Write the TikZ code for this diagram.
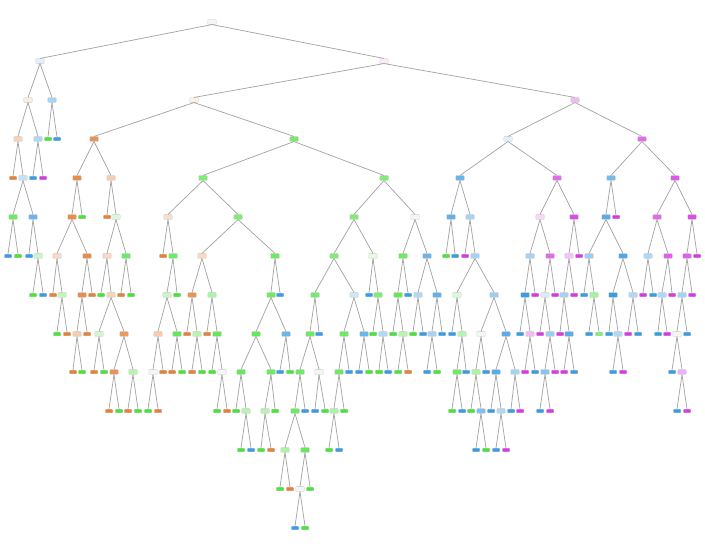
\documentclass[tikz,border=0pt]{standalone}
\usepackage{tikz}
\usepackage{color}
\definecolor{cOr}{HTML}{E58139}
\definecolor{cGr}{HTML}{47E539}
\definecolor{cBl}{HTML}{399DE5}
\definecolor{cPu}{HTML}{D739E5}
\begin{document}
\begin{tikzpicture}[x=1pt,y=-1pt,
  sb/.style={draw=gray!40,line width=0.3pt,rounded corners=0.8pt,minimum width=8.5pt,minimum height=4.8pt,inner sep=0pt},
  lb/.style={sb,minimum width=7.5pt,minimum height=3.6pt},
  edge/.style={gray!70,line width=0.75pt}]
  \useasboundingbox (0,0) rectangle (705,551);
  \node[sb,fill=gray!8] (n0-212) at (212,22) {};
  \foreach \x/\c/\k/\p in {40/cBl!15/sb/212, 384/cPu!10/sb/212}{
    \node[\k,fill=\c] (n1-\x) at (\x,61) {};
    \draw[edge] (n0-\p.south) -- (n1-\x.north);
  }
  \foreach \x/\c/\k/\p in {28/cOr!15/sb/40, 52/cBl!45/sb/40, 194/cOr!12/sb/384, 575/cPu!35/sb/384}{
    \node[\k,fill=\c] (n2-\x) at (\x,100) {};
    \draw[edge] (n1-\p.south) -- (n2-\x.north);
  }
  \foreach \x/\c/\k/\p in {18/cOr!35/sb/28, 38/cBl!40/sb/28, 48/cGr/lb/52, 57/cBl/lb/52, 94/cOr!85/sb/194,
      294/cGr!75/sb/194, 508/cBl!15/sb/575, 642/cPu!75/sb/575}{
    \node[\k,fill=\c] (n3-\x) at (\x,139) {};
    \draw[edge] (n2-\p.south) -- (n3-\x.north);
  }
  \foreach \x/\c/\k/\p in {13/cOr/lb/18, 23/cBl!30/sb/18, 33/cBl/lb/38, 43/cPu/lb/38, 77/cOr!90/sb/94,
      111/cOr!40/sb/94, 203/cGr!70/sb/294, 384/cGr!70/sb/294, 460/cBl!75/sb/508, 557/cPu!75/sb/508,
      611/cBl!70/sb/642, 675/cPu!85/sb/642}{
    \node[\k,fill=\c] (n4-\x) at (\x,178) {};
    \draw[edge] (n3-\p.south) -- (n4-\x.north);
  }
  \foreach \x/\c/\k/\p in {13/cGr!80/sb/23, 33/cBl!75/sb/23, 72/cOr!90/sb/77, 82/cGr/lb/77, 107/cOr/lb/111,
      116/cGr!20/sb/111, 168/cOr!25/sb/203, 238/cGr!70/sb/203, 354/cGr!70/sb/384, 415/cBl!8/sb/384,
      451/cBl!80/sb/460, 470/cBl!45/sb/460, 540/cPu!20/sb/557, 574/cPu!90/sb/557, 606/cBl!85/sb/611,
      616/cPu/lb/611, 657/cPu!75/sb/675, 692/cPu!90/sb/675}{
    \node[\k,fill=\c] (n5-\x) at (\x,217) {};
    \draw[edge] (n4-\p.south) -- (n5-\x.north);
  }
  \foreach \x/\c/\k/\p in {8/cBl/lb/13, 18/cGr/lb/13, 29/cBl/lb/33, 38/cGr!30/sb/33, 57/cOr!30/sb/72,
      87/cOr!90/sb/72, 107/cOr!30/sb/116, 126/cGr!80/sb/116, 163/cOr/lb/168, 173/cGr!80/sb/168,
      202/cOr!30/sb/238, 275/cGr!80/sb/238, 334/cGr!70/sb/354, 373/cGr!15/sb/354, 403/cGr!80/sb/415,
      427/cBl!75/sb/415, 446/cGr/lb/451, 455/cBl/lb/451, 465/cPu/lb/470, 475/cBl!45/sb/470,
      530/cBl!45/sb/540, 550/cPu!75/sb/540, 569/cPu!30/sb/574, 579/cPu/lb/574, 589/cBl!50/sb/606,
      623/cBl!90/sb/606, 648/cBl!40/sb/657, 668/cPu!80/sb/657, 687/cPu!80/sb/692, 697/cPu/lb/692}{
    \node[\k,fill=\c] (n6-\x) at (\x,256) {};
    \draw[edge] (n5-\p.south) -- (n6-\x.north);
  }
  \foreach \x/\c/\k/\p in {33/cGr/lb/38, 43/cBl/lb/38, 53/cOr/lb/57, 62/cGr!35/sb/57, 82/cOr!90/sb/87,
      92/cOr/lb/87, 101/cGr/lb/107, 111/cOr!35/sb/107, 121/cOr/lb/126, 131/cGr/lb/126,
      167/cGr!30/sb/173, 177/cGr/lb/173, 192/cOr!85/sb/202, 212/cGr!45/sb/202, 271/cGr!80/sb/275,
      280/cBl/lb/275, 315/cGr!75/sb/334, 354/cBl!25/sb/334, 369/cBl/lb/373, 378/cGr!70/sb/373,
      398/cGr!85/sb/403, 408/cBl/lb/403, 418/cBl!40/sb/427, 437/cBl!80/sb/427, 457/cGr!20/sb/475,
      494/cBl!50/sb/475, 525/cBl/sb/530, 535/cPu/lb/530, 545/cBl!20/sb/550, 555/cPu/lb/550,
      564/cBl!45/sb/569, 574/cPu/lb/569, 584/cBl/lb/589, 594/cGr!50/sb/589, 613/cBl/sb/623,
      633/cBl!40/sb/623, 643/cPu/lb/648, 653/cBl/lb/648, 662/cBl!40/sb/668, 672/cPu/lb/668,
      682/cBl!45/sb/687, 692/cPu/lb/687}{
    \node[\k,fill=\c] (n7-\x) at (\x,295) {};
    \draw[edge] (n6-\p.south) -- (n7-\x.north);
  }
  \foreach \x/\c/\k/\p in {57/cGr/lb/62, 67/cOr/lb/62, 77/cOr!40/sb/82, 87/cOr/lb/82, 99/cGr!25/sb/111,
      124/cOr!80/sb/111, 158/cOr!40/sb/167, 177/cGr!85/sb/167, 187/cOr/lb/192, 197/cGr!40/sb/192,
      207/cOr/lb/212, 217/cGr!85/sb/212, 256/cGr!85/sb/271, 286/cBl!75/sb/271, 310/cGr!80/sb/315,
      319/cBl/lb/315, 344/cGr!80/sb/354, 364/cBl!75/sb/354, 373/cGr/lb/378, 383/cBl!40/sb/378,
      393/cGr/lb/398, 403/cGr!40/sb/398, 413/cGr/lb/418, 423/cBl/lb/418, 432/cBl!45/sb/437,
      442/cBl/lb/437, 452/cBl/lb/457, 462/cGr!40/sb/457, 481/gray!8/sb/494, 506/cBl!85/sb/494,
      520/cBl/lb/525, 530/cPu!35/sb/525, 540/cPu/lb/545, 550/cBl!50/sb/545, 560/cPu/lb/564,
      569/cBl!85/sb/564, 589/cBl/lb/594, 599/cGr!70/lb/594, 609/cBl/lb/613, 618/cBl!40/sb/613,
      628/cPu/lb/633, 638/cBl/lb/633, 658/cBl/lb/662, 667/cPu/lb/662, 677/gray!8/sb/682, 687/cBl/lb/682}{
    \node[\k,fill=\c] (n8-\x) at (\x,334) {};
    \draw[edge] (n7-\p.south) -- (n8-\x.north);
  }
  \foreach \x/\c/\k/\p in {73/cOr/lb/77, 82/cGr/lb/77, 94/cOr/lb/99, 104/cGr/lb/99, 114/cOr!85/sb/124,
      133/cGr!40/sb/124, 153/gray!8/sb/158, 163/cOr/lb/158, 172/cOr/lb/177, 182/cGr/lb/177,
      192/cOr/lb/197, 202/cGr/lb/197, 212/cGr/lb/217, 222/gray!8/sb/217, 241/cGr!85/sb/256,
      271/cGr!80/sb/256, 280/cBl/lb/286, 290/cGr/lb/286, 300/cGr!80/sb/310, 319/gray!8/sb/310,
      339/cGr!80/sb/344, 349/cBl/lb/344, 359/cBl/lb/364, 369/cGr/lb/364, 379/cGr/lb/383,
      388/cBl/lb/383, 398/cGr/lb/403, 408/cOr/lb/403, 427/cBl/lb/432, 437/cGr/lb/432,
      457/cGr!80/sb/462, 466/cBl/lb/462, 476/cGr!45/sb/481, 486/cBl/lb/481, 496/cBl!85/sb/506,
      515/cBl!45/sb/506, 525/cPu/lb/530, 535/cBl/lb/530, 545/cBl!60/sb/550, 555/cPu/lb/550,
      564/cPu/lb/569, 574/cBl/lb/569, 613/cBl/lb/618, 623/cPu/lb/618, 672/cBl/lb/677, 682/cPu!40/sb/677}{
    \node[\k,fill=\c] (n9-\x) at (\x,372) {};
    \draw[edge] (n8-\p.south) -- (n9-\x.north);
  }
  \foreach \x/\c/\k/\p in {109/cOr/lb/114, 119/cGr/lb/114, 128/cOr/lb/133, 138/cGr/lb/133, 148/cGr/lb/153,
      158/cOr/lb/153, 217/cGr/lb/222, 227/cOr/lb/222, 236/cGr/lb/241, 246/cGr!40/sb/241,
      265/cGr!40/sb/271, 275/cGr/lb/271, 295/cGr!80/sb/300, 305/cBl/lb/300, 315/cBl/lb/319,
      325/cGr/lb/319, 334/cGr!45/sb/339, 344/cGr/lb/339, 452/cGr/lb/457, 462/cBl/lb/457,
      471/cGr/lb/476, 481/cBl!65/sb/476, 491/cBl/lb/496, 501/cBl!40/sb/496, 511/cBl/lb/515,
      520/cPu/lb/515, 540/cBl/lb/545, 550/cPu/lb/545, 677/cBl/lb/682, 687/cPu/lb/682}{
    \node[\k,fill=\c] (n10-\x) at (\x,411) {};
    \draw[edge] (n9-\p.south) -- (n10-\x.north);
  }
  \foreach \x/\c/\k/\p in {241/cGr/lb/246, 251/cBl/lb/246, 261/cGr/lb/265, 271/cOr/lb/265, 285/cGr!45/sb/295,
      305/cGr!85/sb/295, 329/cGr/lb/334, 339/cBl/lb/334, 476/cBl/lb/481, 486/cGr/lb/481,
      496/cBl/lb/501, 506/cPu/lb/501}{
    \node[\k,fill=\c] (n11-\x) at (\x,450) {};
    \draw[edge] (n10-\p.south) -- (n11-\x.north);
  }
  \foreach \x/\c/\k/\p in {280/cGr/lb/285, 290/cOr/lb/285, 300/gray!8/sb/305, 310/cGr/lb/305}{
    \node[\k,fill=\c] (n12-\x) at (\x,489) {};
    \draw[edge] (n11-\p.south) -- (n12-\x.north);
  }
  \foreach \x/\c/\k/\p in {295/cBl/lb/300, 305/cGr/lb/300}{
    \node[\k,fill=\c] (n13-\x) at (\x,528) {};
    \draw[edge] (n12-\p.south) -- (n13-\x.north);
  }
\end{tikzpicture}
\end{document}
